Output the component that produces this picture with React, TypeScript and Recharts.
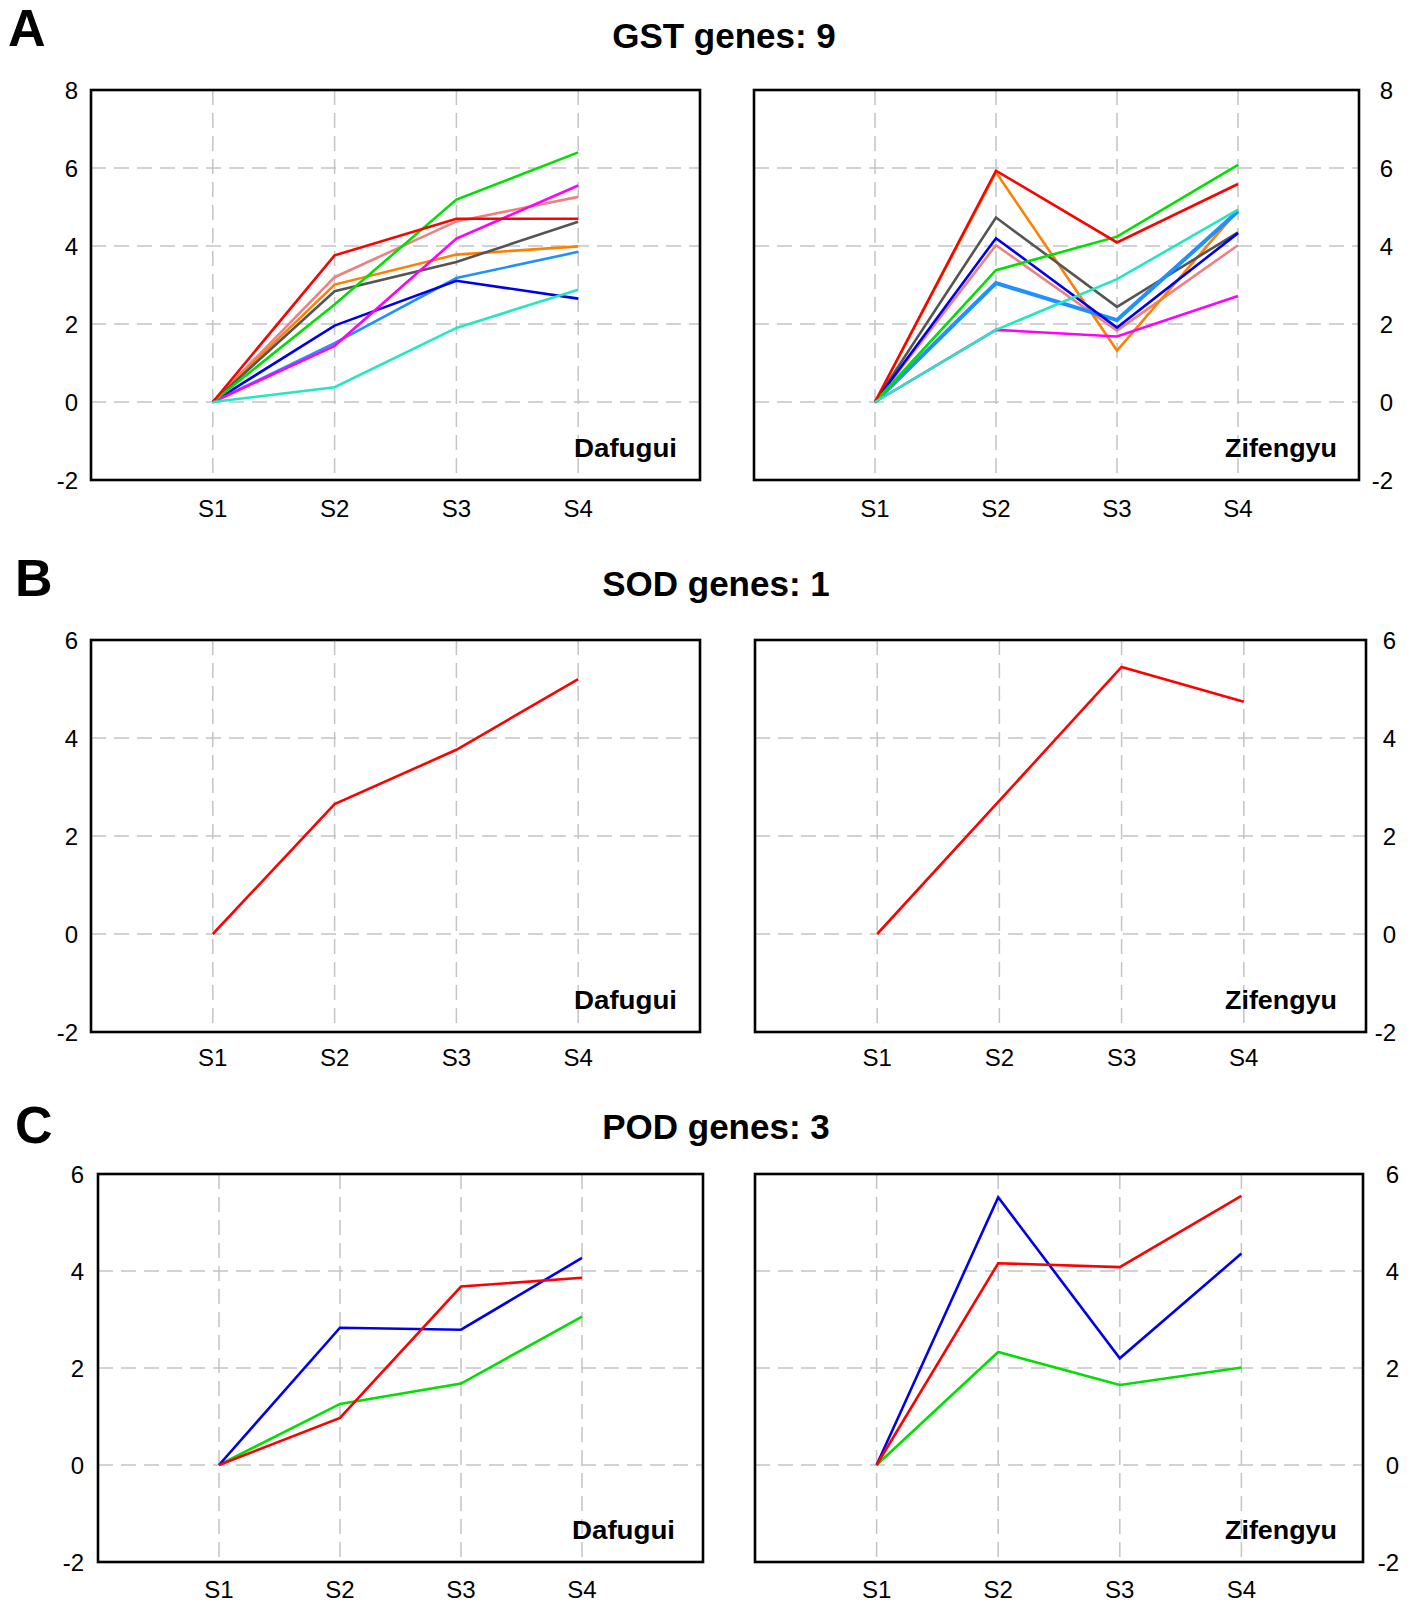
import React from 'react';
import { LineChart, Line, XAxis, YAxis, CartesianGrid } from 'recharts';

const stages = ['S1', 'S2', 'S3', 'S4'];

// GST (9 genes) - colour order shared by both cultivars
const gstColors = ['#f08080', '#ff7f00', '#555555', '#1e90ff', '#0000ee', '#ff00ff', '#00e000', '#ff0000', '#22e8c0'];
const gstDafugui = [
  [0, 3.2, 4.63, 5.26],
  [0, 3.01, 3.78, 3.99],
  [0, 2.84, 3.59, 4.62],
  [0, 1.51, 3.18, 3.85],
  [0, 1.96, 3.11, 2.65],
  [0, 1.44, 4.19, 5.55],
  [0, 2.5, 5.19, 6.4],
  [0, 3.76, 4.7, 4.7],
  [0, 0.38, 1.9, 2.88],
];
const gstZifengyu = [
  [0, 4.02, 1.83, 4.02],
  [0, 5.89, 1.32, 4.92],
  [0, 4.73, 2.44, 4.35],
  [0, 3.05, 2.1, 4.89],
  [0, 4.2, 1.91, 4.33],
  [0, 1.85, 1.68, 2.72],
  [0, 3.38, 4.24, 6.08],
  [0, 5.93, 4.09, 5.59],
  [0, 1.85, 3.15, 4.93],
];

// SOD (1 gene)
const sodColors = ['#ff0000'];
const sodDafugui = [[0, 2.65, 3.76, 5.2]];
const sodZifengyu = [[0, 2.72, 5.45, 4.74]];

// POD (3 genes)
const podColors = ['#00e000', '#0000ee', '#ff0000'];
const podDafugui = [
  [0, 1.26, 1.68, 3.06],
  [0, 2.83, 2.79, 4.27],
  [0, 0.97, 3.68, 3.86],
];
const podZifengyu = [
  [0, 2.33, 1.65, 2.01],
  [0, 5.52, 2.2, 4.36],
  [0, 4.16, 4.08, 5.55],
];

const ticksWide = [-2, 0, 2, 4, 6, 8];
const ticksNarrow = [-2, 0, 2, 4, 6];

const FONT = '"Liberation Sans", Arial, sans-serif';
const PAD = 70;
const PAD_T = 20;
const PAD_B = 50;

type PanelProps = {
  series: number[][];
  colors: string[];
  box: { l: number; t: number; r: number; b: number };
  yTicks: number[];
  side: 'left' | 'right';
  yLabelOffset: number;
  xLabelOffset: number;
  widths?: number[];
};

const Panel = ({ series, colors, box, yTicks, side, yLabelOffset, xLabelOffset, widths }: PanelProps) => {
  const boxW = box.r - box.l;
  const boxH = box.b - box.t;
  const data = stages.map((s, i) => {
    const row: Record<string, number | string> = { pos: i + 1, stage: s };
    series.forEach((vals, k) => {
      row[`g${k}`] = vals[i];
    });
    return row;
  });

  const yTickX = side === 'left' ? PAD - yLabelOffset : PAD + boxW + yLabelOffset;

  return (
    <div style={{ position: 'absolute', left: box.l - PAD, top: box.t - PAD_T }}>
      <LineChart
        width={boxW + 2 * PAD}
        height={boxH + PAD_T + PAD_B}
        data={data}
        margin={{ top: PAD_T, bottom: 0, left: side === 'left' ? 0 : PAD, right: side === 'left' ? PAD : 0 }}
      >
        <CartesianGrid stroke="#c4c4c4" strokeWidth={1.5} strokeDasharray="15 8" />
        <XAxis
          dataKey="pos"
          type="number"
          domain={[0, 5]}
          ticks={[1, 2, 3, 4]}
          height={PAD_B}
          axisLine={false}
          tickLine={false}
          tick={(p: any) => (
            <text
              x={p.x}
              y={PAD_T + boxH + xLabelOffset}
              dy="0.36em"
              textAnchor="middle"
              fontFamily={FONT}
              fontSize={24}
              fill="#000"
            >
              {stages[p.payload.value - 1]}
            </text>
          )}
        />
        <YAxis
          orientation={side}
          type="number"
          domain={[yTicks[0], yTicks[yTicks.length - 1]]}
          ticks={yTicks}
          width={PAD}
          axisLine={false}
          tickLine={false}
          tick={(p: any) => (
            <text x={yTickX} y={p.y} dy="0.36em" textAnchor="end" fontFamily={FONT} fontSize={24} fill="#000">
              {p.payload.value}
            </text>
          )}
        />
        {series.map((_, k) => (
          <Line
            key={k}
            type="linear"
            dataKey={`g${k}`}
            stroke={colors[k]}
            strokeWidth={widths ? widths[k] : 2.6}
            dot={false}
            isAnimationActive={false}
          />
        ))}
      </LineChart>
    </div>
  );
};

const boxes = {
  aL: { l: 91, t: 90, r: 700, b: 480 },
  aR: { l: 754, t: 90, r: 1359, b: 480 },
  bL: { l: 91, t: 640, r: 700, b: 1032 },
  bR: { l: 755, t: 640, r: 1366, b: 1032 },
  cL: { l: 98, t: 1174, r: 703, b: 1562 },
  cR: { l: 755, t: 1174, r: 1363, b: 1562 },
};

const gstRightWidths = [2.6, 2.6, 2.6, 4, 2.6, 2.6, 2.6, 2.6, 2.6];

const App = () => {
  return (
    <div style={{ position: 'absolute', left: 0, top: 0, width: 1413, height: 1604, background: '#fff' }}>
      <Panel series={gstDafugui} colors={gstColors} box={boxes.aL} yTicks={ticksWide} side="left" yLabelOffset={13} xLabelOffset={28} />
      <Panel series={gstZifengyu} colors={gstColors} box={boxes.aR} yTicks={ticksWide} side="right" yLabelOffset={34} xLabelOffset={28} widths={gstRightWidths} />
      <Panel series={sodDafugui} colors={sodColors} box={boxes.bL} yTicks={ticksNarrow} side="left" yLabelOffset={13} xLabelOffset={25} />
      <Panel series={sodZifengyu} colors={sodColors} box={boxes.bR} yTicks={ticksNarrow} side="right" yLabelOffset={30} xLabelOffset={25} />
      <Panel series={podDafugui} colors={podColors} box={boxes.cL} yTicks={ticksNarrow} side="left" yLabelOffset={14} xLabelOffset={27} />
      <Panel series={podZifengyu} colors={podColors} box={boxes.cR} yTicks={ticksNarrow} side="right" yLabelOffset={36} xLabelOffset={27} />

      {/* frames, panel letters, titles and cultivar names */}
      <svg width={1413} height={1604} style={{ position: 'absolute', left: 0, top: 0, pointerEvents: 'none' }}>
        {Object.values(boxes).map((b, i) => (
          <rect key={i} x={b.l} y={b.t} width={b.r - b.l} height={b.b - b.t} fill="none" stroke="#000" strokeWidth={2.6} />
        ))}
        <g fontFamily={FONT} fill="#000">
          <text x={8} y={46} fontSize={52} fontWeight="bold">A</text>
          <text x={15} y={596} fontSize={52} fontWeight="bold">B</text>
          <text x={15} y={1143} fontSize={52} fontWeight="bold">C</text>
          <text x={724} y={48} fontSize={35} fontWeight="bold" textAnchor="middle">GST genes: 9</text>
          <text x={716} y={596} fontSize={35} fontWeight="bold" textAnchor="middle">SOD genes: 1</text>
          <text x={716} y={1139} fontSize={35} fontWeight="bold" textAnchor="middle">POD genes: 3</text>
          {[boxes.aL, boxes.bL, boxes.cL].map((b, i) => (
            <text key={`d${i}`} x={(i === 2 ? 675 : 677) - 103} y={b.b - 23} fontSize={25} fontWeight="bold" textLength={103} lengthAdjust="spacingAndGlyphs">Dafugui</text>
          ))}
          {[boxes.aR, boxes.bR, boxes.cR].map((b, i) => (
            <text key={`z${i}`} x={1337 - 112} y={b.b - 23} fontSize={25} fontWeight="bold" textLength={112} lengthAdjust="spacingAndGlyphs">Zifengyu</text>
          ))}
        </g>
      </svg>
    </div>
  );
};

export default App;
